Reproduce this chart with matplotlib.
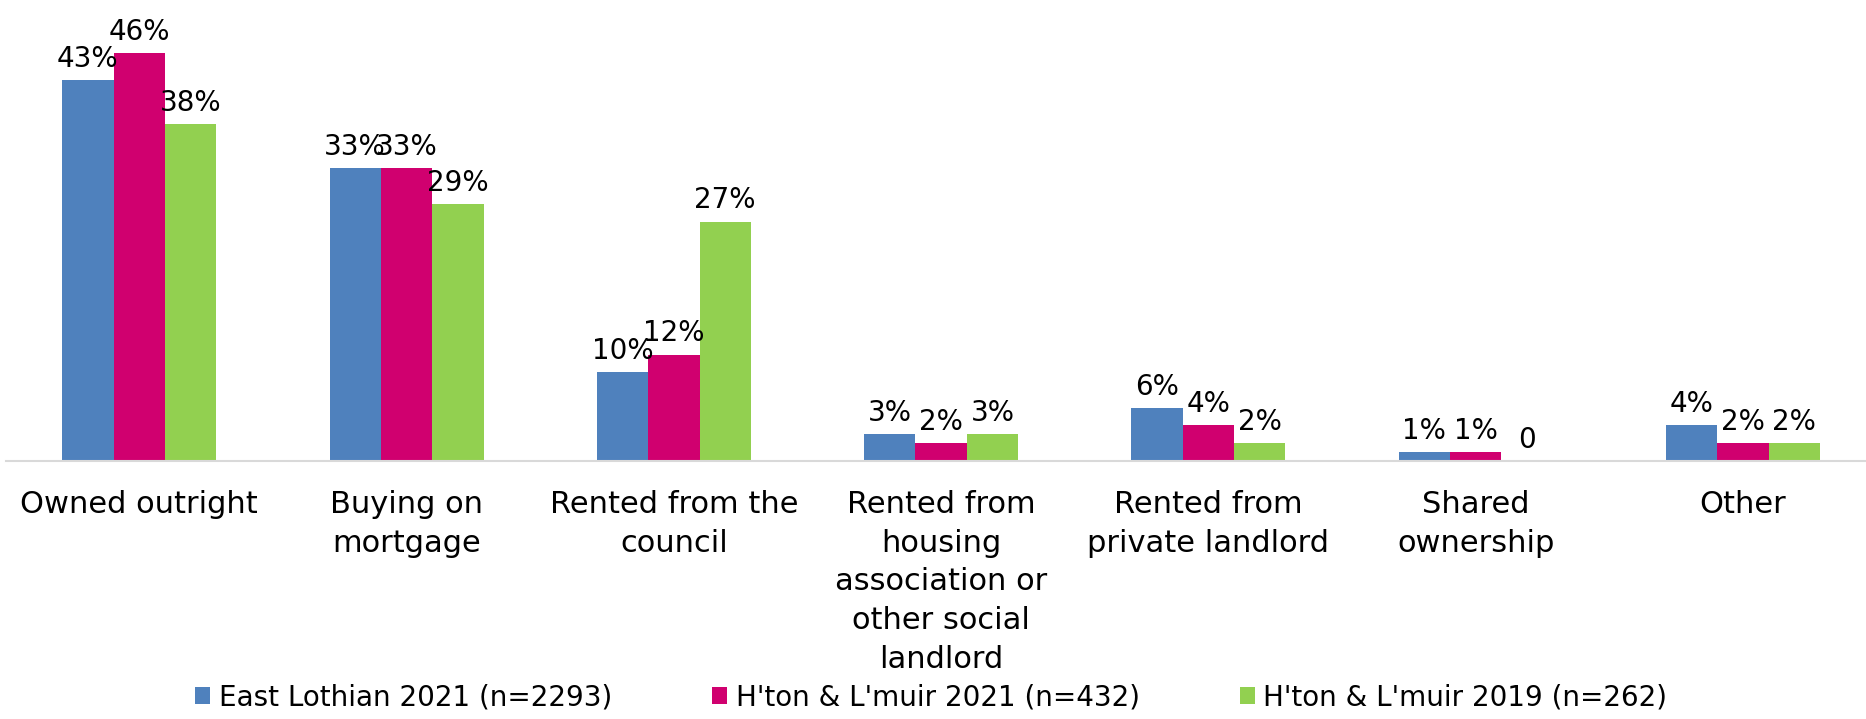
import numpy as np
import matplotlib.pyplot as plt

categories = ['Owned outright', 'Buying on\nmortgage', 'Rented from the\ncouncil',
              'Rented from\nhousing\nassociation or\nother social\nlandlord',
              'Rented from\nprivate landlord', 'Shared\nownership', 'Other']
series_names = ['East Lothian 2021 (n=2293)', "H'ton & L'muir 2021 (n=432)",
                "H'ton & L'muir 2019 (n=262)"]
east_lothian_2021 = [43, 33, 10, 3, 6, 1, 4]
hl_2021 = [46, 33, 12, 2, 4, 1, 2]
hl_2019 = [38, 29, 27, 3, 2, 0, 2]
colors = ['#4F81BD', '#D0006F', '#92D050']

plt.rcParams['font.family'] = ['DejaVu Sans']

fig = plt.figure(figsize=(18.66, 7.19), dpi=100)
ax = fig.add_axes([0.003, 0.359, 0.997, 0.641])

x = np.arange(len(categories))
w = 0.192
all_series = [east_lothian_2021, hl_2021, hl_2019]
for i, vals in enumerate(all_series):
    pos = x + (i - 1) * w
    ax.bar(pos, vals, width=w, color=colors[i], label=series_names[i])
    for px, v in zip(pos, vals):
        txt = '0' if v == 0 else '%d%%' % v
        ax.text(px, v + 0.8, txt, ha='center', va='bottom', fontsize=20)

ax.set_xlim(-0.5, 6.46)
ax.set_ylim(0, 52)
ax.set_yticks([])
ax.set_xticks(x)
ax.set_xticklabels(categories, fontsize=22, linespacing=1.42)
ax.tick_params(axis='x', length=0, pad=21)
for s in ['top', 'right', 'left']:
    ax.spines[s].set_visible(False)
ax.spines['bottom'].set_color('#D9D9D9')
ax.spines['bottom'].set_linewidth(1.5)

fig.legend(loc='center', bbox_to_anchor=(0.499, 0.03), ncol=3, frameon=False,
           fontsize=20, handlelength=0.55, handleheight=0.55, handletextpad=0.3,
           columnspacing=3.6)

fig.savefig('out.png', dpi=100)
